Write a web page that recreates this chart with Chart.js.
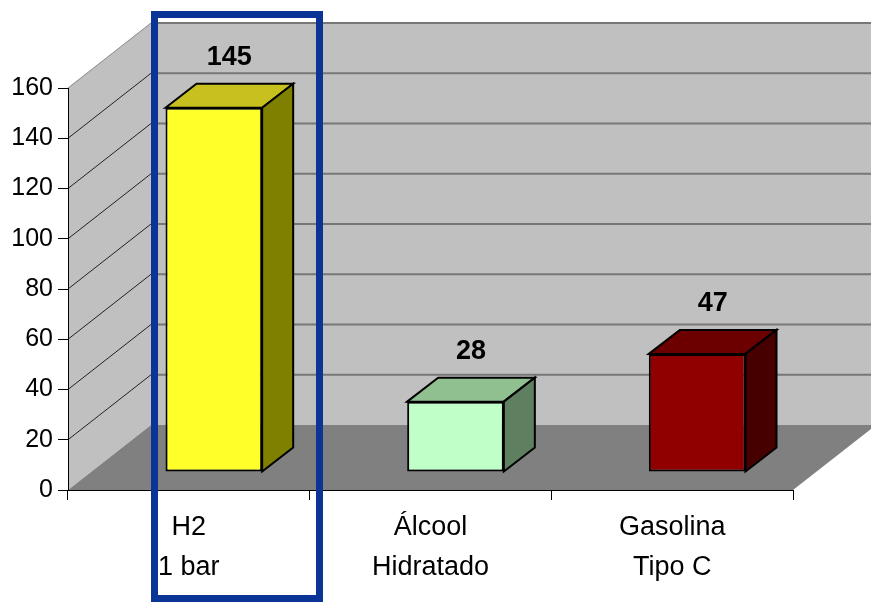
<!DOCTYPE html>
<html>
<head>
<meta charset="utf-8">
<script src="https://cdn.jsdelivr.net/npm/chart.js@4/dist/chart.umd.min.js"></script>
<style>
  html, body { margin: 0; padding: 0; background: #fff; }
</style>
</head>
<body>
<canvas id="chart" width="871" height="602"></canvas>
<script>
const categories = [['H2', '1 bar'], ['Álcool', 'Hidratado'], ['Gasolina', 'Tipo C']];
const values     = [145, 28, 47];
const yMin = 0, yMax = 160, yStep = 20;

const FRONT_COLORS = ['#ffff2a', '#c0ffc8', '#900000'];
const TOP_COLORS   = ['#c8c01e', '#90c090', '#6c0000'];
const SIDE_COLORS  = ['#808000', '#5f8060', '#460000'];

const FONT = "'Liberation Sans', Arial, sans-serif";

// 3D look: full depth of the box, and where the bars sit inside it
const DX = 83, DY = -65;
const FX = 25, FY = -18;   // bar front face offset
const BX = 31, BY = -24;   // bar depth

const box3d = {
  id: 'box3d',
  beforeDraw(chart) {
    const { ctx, chartArea: a, scales: { y } } = chart;
    ctx.save();
    // left wall
    ctx.fillStyle = '#c0c0c0';
    ctx.beginPath();
    ctx.moveTo(a.left, a.top);
    ctx.lineTo(a.left + DX, a.top + DY);
    ctx.lineTo(a.left + DX, a.bottom + DY);
    ctx.lineTo(a.left, a.bottom);
    ctx.closePath();
    ctx.fill();
    // back wall
    ctx.fillRect(a.left + DX, a.top + DY, a.right - a.left, a.bottom - a.top);
    // floor
    ctx.fillStyle = '#808080';
    ctx.beginPath();
    ctx.moveTo(a.left, a.bottom);
    ctx.lineTo(a.right, a.bottom);
    ctx.lineTo(a.right + DX, a.bottom + DY);
    ctx.lineTo(a.left + DX, a.bottom + DY);
    ctx.closePath();
    ctx.fill();
    // grid lines on the walls
    y.ticks.forEach((t) => {
      if (t.value <= yMin) return;
      const py = y.getPixelForValue(t.value);
      ctx.strokeStyle = '#777';
      ctx.lineWidth = 2;
      ctx.beginPath();
      ctx.moveTo(a.left + DX, py + DY);
      ctx.lineTo(a.right + DX, py + DY);
      ctx.stroke();
      ctx.strokeStyle = t.value === yMax ? '#888' : '#222';
      ctx.lineWidth = 1;
      ctx.beginPath();
      ctx.moveTo(a.left, py);
      ctx.lineTo(a.left + DX, py + DY);
      ctx.stroke();
    });
    ctx.restore();
  },
  beforeDatasetsDraw(chart) {
    chart.ctx.save();
    chart.ctx.translate(FX, FY);
  },
  afterDatasetsDraw(chart) {
    const { ctx } = chart;
    ctx.restore();
    const bars = chart.getDatasetMeta(0).data;
    ctx.save();
    ctx.lineWidth = 2;
    ctx.strokeStyle = '#000';
    ctx.lineJoin = 'miter';
    bars.forEach((bar, i) => {
      const xl = bar.x - bar.width / 2 + FX;
      const xr = bar.x + bar.width / 2 + FX;
      const yt = bar.y + FY;
      const yb = bar.base + FY;
      // top face
      ctx.fillStyle = TOP_COLORS[i];
      ctx.beginPath();
      ctx.moveTo(xl, yt);
      ctx.lineTo(xl + BX, yt + BY);
      ctx.lineTo(xr + BX, yt + BY);
      ctx.lineTo(xr, yt);
      ctx.closePath();
      ctx.fill();
      ctx.stroke();
      // side face
      ctx.fillStyle = SIDE_COLORS[i];
      ctx.beginPath();
      ctx.moveTo(xr, yt);
      ctx.lineTo(xr + BX, yt + BY);
      ctx.lineTo(xr + BX, yb + BY);
      ctx.lineTo(xr, yb);
      ctx.closePath();
      ctx.fill();
      ctx.stroke();
      // value label
      ctx.fillStyle = '#000';
      ctx.font = 'bold 27px ' + FONT;
      ctx.textAlign = 'center';
      ctx.textBaseline = 'alphabetic';
      ctx.fillText(String(values[i]), bar.x + FX + BX / 2, yt + BY - 19);
    });
    ctx.restore();
  },
  afterDraw(chart) {
    const { ctx } = chart;
    ctx.save();
    ctx.strokeStyle = '#0a3597';
    ctx.lineWidth = 7;
    ctx.strokeRect(154.5, 14.5, 165, 584);
    ctx.restore();
  },
};

new Chart(document.getElementById('chart'), {
  type: 'bar',
  data: {
    labels: categories,
    datasets: [{
      data: values,
      backgroundColor: FRONT_COLORS,
      borderColor: '#000',
      borderWidth: 2,
      borderSkipped: false,
      barPercentage: 0.4,
      categoryPercentage: 1,
      clip: false,
    }],
  },
  options: {
    responsive: false,
    animation: false,
    layout: { padding: { top: 88, right: 78, left: 0, bottom: 0 } },
    plugins: { legend: { display: false }, tooltip: { enabled: false } },
    scales: {
      x: {
        afterFit: (s) => { s.height = 112; },
        grid: { offset: true, drawOnChartArea: false, color: '#000', tickLength: 10 },
        border: { color: '#000', width: 1 },
        ticks: {
          color: '#000',
          font: { family: FONT, size: 27, lineHeight: 1.48 },
          padding: 8,
          maxRotation: 0,
          autoSkip: false,
        },
      },
      y: {
        min: yMin,
        max: yMax,
        afterFit: (s) => { s.width = 68; },
        grid: { drawOnChartArea: false, color: '#000', tickLength: 10 },
        border: { color: '#000', width: 1 },
        ticks: {
          stepSize: yStep,
          color: '#000',
          font: { family: FONT, size: 25 },
          padding: 5,
        },
      },
    },
  },
  plugins: [box3d],
});
</script>
</body>
</html>
